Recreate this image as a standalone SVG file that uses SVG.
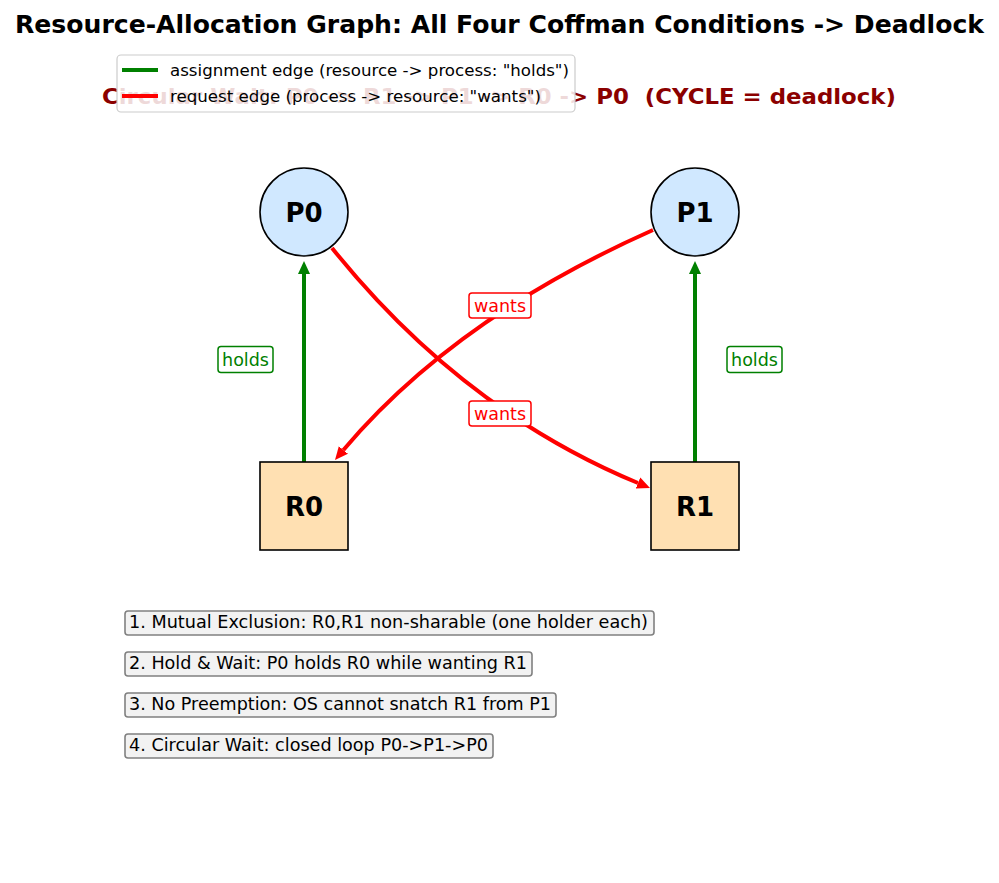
<svg xmlns="http://www.w3.org/2000/svg" width="999" height="883" viewBox="0 0 999 883">
<style>
text{font-family:"DejaVu Sans","Liberation Sans",sans-serif;}
.title{font-size:24px;font-weight:bold;fill:#000;}
.sub{font-size:20.5px;font-weight:bold;fill:#8b0000;white-space:pre;}
.leg{font-size:16px;fill:#000;}
.node circle{fill:#d0e8ff;stroke:#000;stroke-width:1.6;}
.node rect{fill:#ffe0b2;stroke:#000;stroke-width:1.6;}
.nl{font-size:26px;font-weight:bold;fill:#000;text-anchor:middle;}
.hold{stroke:#008000;stroke-width:4;fill:none;}
.req{stroke:#ff0000;stroke-width:4;fill:none;}
.lbox-g{fill:#fff;stroke:#008000;stroke-width:1.5;}
.lbox-r{fill:#fff;stroke:#ff0000;stroke-width:1.5;}
.lg{font-size:17.5px;fill:#008000;text-anchor:middle;}
.lr{font-size:17.5px;fill:#ff0000;text-anchor:middle;}
.cbox{fill:#f2f2f2;stroke:#808080;stroke-width:1.6;}
.ct{font-size:17px;fill:#000;}
</style>
<defs>
<marker id="ahG" markerUnits="userSpaceOnUse" markerWidth="15" markerHeight="14" viewBox="0 -7 15 14" refX="0" refY="0" orient="auto"><path d="M0,-6 L13,0 L0,6 z" fill="#008000"/></marker>
<marker id="ahR" markerUnits="userSpaceOnUse" markerWidth="15" markerHeight="14" viewBox="0 -7 15 14" refX="0" refY="0" orient="auto"><path d="M0,-6 L13,0 L0,6 z" fill="#ff0000"/></marker>
</defs>
<rect width="999" height="883" fill="#fff"/>
<text class="title" x="15" y="33" textLength="969" lengthAdjust="spacingAndGlyphs">Resource-Allocation Graph: All Four Coffman Conditions -&gt; Deadlock</text>
<text class="sub" x="102" y="104" textLength="794" lengthAdjust="spacingAndGlyphs">Circular Wait: P0 -&gt; R1 -&gt; P1 -&gt; R0 -&gt; P0  (CYCLE = deadlock)</text>
<g id="legend">
<rect x="117" y="55" width="458" height="57" rx="4" fill="#fff" fill-opacity="0.85" stroke="#cccccc" stroke-width="1.2"/>
<line x1="122" y1="70" x2="158" y2="70" class="hold"/>
<text class="leg" x="170" y="76" textLength="399" lengthAdjust="spacingAndGlyphs">assignment edge (resource -&gt; process: "holds")</text>
<line x1="122" y1="96" x2="158" y2="96" class="req"/>
<text class="leg" x="170" y="102" textLength="371" lengthAdjust="spacingAndGlyphs">request edge (process -&gt; resource: "wants")</text>
</g>
<g id="connectors">
<path class="hold" d="M304,462 V274" marker-end="url(#ahG)"/>
<path class="hold" d="M695,462 V274" marker-end="url(#ahG)"/>
<path class="req" d="M332,248 Q462,410 638,483" marker-end="url(#ahR)"/>
<path class="req" d="M653,230 Q455,318 343.4,450" marker-end="url(#ahR)"/>
<rect class="lbox-g" x="218" y="346.5" width="55" height="26" rx="3"/>
<text class="lg" x="245.5" y="365.5">holds</text>
<rect class="lbox-g" x="727" y="346.5" width="55" height="26" rx="3"/>
<text class="lg" x="754.5" y="365.5">holds</text>
<rect class="lbox-r" x="469" y="293" width="62" height="25" rx="3"/>
<text class="lr" x="500" y="311.5">wants</text>
<rect class="lbox-r" x="469" y="401" width="62" height="25" rx="3"/>
<text class="lr" x="500" y="419.5">wants</text>
</g>
<g id="P0" class="node"><circle cx="304" cy="212" r="44"/><text class="nl" x="304" y="221.5">P0</text></g>
<g id="P1" class="node"><circle cx="695" cy="212" r="44"/><text class="nl" x="695" y="221.5">P1</text></g>
<g id="R0" class="node"><rect x="260" y="462" width="88" height="88"/><text class="nl" x="304" y="515.5">R0</text></g>
<g id="R1" class="node"><rect x="651" y="462" width="88" height="88"/><text class="nl" x="695" y="515.5">R1</text></g>
<g id="conditions">
<rect class="cbox" x="125" y="611" width="529" height="24" rx="3"/>
<text class="ct" x="129" y="628" textLength="519" lengthAdjust="spacingAndGlyphs">1. Mutual Exclusion: R0,R1 non-sharable (one holder each)</text>
<rect class="cbox" x="125" y="652" width="407" height="24" rx="3"/>
<text class="ct" x="129" y="669" textLength="398" lengthAdjust="spacingAndGlyphs">2. Hold &amp; Wait: P0 holds R0 while wanting R1</text>
<rect class="cbox" x="125" y="693" width="431" height="24" rx="3"/>
<text class="ct" x="129" y="710" textLength="422" lengthAdjust="spacingAndGlyphs">3. No Preemption: OS cannot snatch R1 from P1</text>
<rect class="cbox" x="125" y="734" width="368" height="24" rx="3"/>
<text class="ct" x="129" y="751" textLength="359" lengthAdjust="spacingAndGlyphs">4. Circular Wait: closed loop P0-&gt;P1-&gt;P0</text>
</g>
</svg>
